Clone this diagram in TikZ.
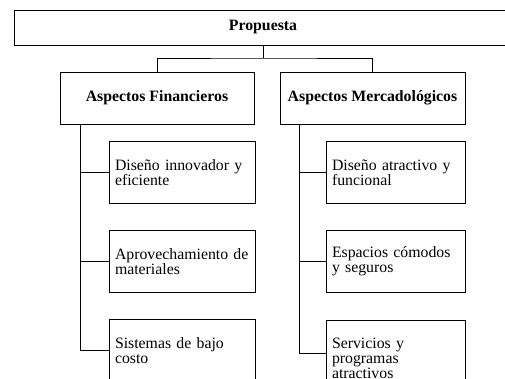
\documentclass[tikz,border=0pt]{standalone}
\usepackage{fontspec}
\setmainfont{Liberation Serif}
\begin{document}
\begin{tikzpicture}[x=1pt,y=-1pt,line width=.9pt,
    caja/.style={draw,rectangle,inner sep=0pt,font=\fontsize{15.8}{15}\selectfont},
    titulo/.style={caja,font=\fontsize{15.8}{15}\selectfont\bfseries},
    hoja/.style={caja,anchor=north,align=left,inner xsep=6pt,minimum height=62pt}]
\useasboundingbox (0,0) rectangle (505,378);
\node[titulo,minimum width=498pt,minimum height=35pt](prop) at (263,27.5){Propuesta};
\node[titulo,minimum width=194pt,minimum height=52pt](fin) at (157,98){Aspectos Financieros};
\node[titulo,minimum width=185pt,minimum height=52pt](mer) at (372.5,98){Aspectos Mercadológicos};
\coordinate (j) at (263,58);
\draw (prop.south)--(j);
\draw (fin.north)|-(j)-|(mer.north);
% financieros
\node[hoja,text width=134pt](f1) at (182,141){Diseño innovador y\\eficiente};
\node[hoja,text width=134pt](f2) at (182,230){Aprovechamiento de\\materiales};
\node[hoja,text width=134pt](f3) at (182,319){Sistemas de bajo\\costo};
\coordinate (fs) at (80,124);
\draw (fs)|-(f1.west) (fs)|-(f2.west) (fs)|-(f3.west);
% mercadologicos
\node[hoja,text width=127pt](m1) at (395.5,141){Diseño atractivo y\\funcional};
\node[hoja,text width=127pt](m2) at (395.5,230){Espacios cómodos\\y seguros};
\node[hoja,text width=127pt,minimum height=76pt](m3) at (395.5,320){Servicios y\\programas\\atractivos};
\coordinate (ms) at (299,124);
\draw (ms)|-(m1.west) (ms)|-(m2.west) (ms)|-([yshift=5pt]m3.west);
\end{tikzpicture}
\end{document}
